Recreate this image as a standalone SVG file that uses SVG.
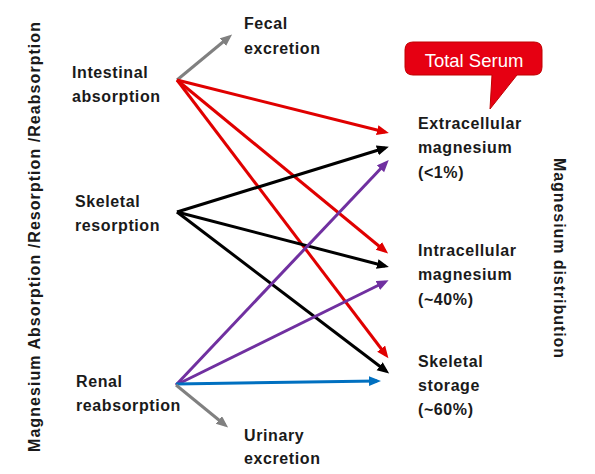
<svg xmlns="http://www.w3.org/2000/svg" width="595" height="474" viewBox="0 0 595 474">
<defs>
<style>
.t{font-family:"Liberation Sans",Arial,sans-serif;font-weight:bold;font-size:16px;fill:#1a1a1a;letter-spacing:0.6px}
.ax{font-family:"Liberation Sans",Arial,sans-serif;font-weight:bold;font-size:16px;fill:#1a1a1a}
.c{fill:none;stroke-width:3}
</style>
<marker id="aR" markerUnits="userSpaceOnUse" markerWidth="14" markerHeight="12" refX="8" refY="5" orient="auto"><path d="M0,0 L12,5 L0,10 z" fill="#e00000"/></marker>
<marker id="aK" markerUnits="userSpaceOnUse" markerWidth="14" markerHeight="12" refX="8" refY="5" orient="auto"><path d="M0,0 L12,5 L0,10 z" fill="#000"/></marker>
<marker id="aP" markerUnits="userSpaceOnUse" markerWidth="14" markerHeight="12" refX="8" refY="5" orient="auto"><path d="M0,0 L12,5 L0,10 z" fill="#7030a0"/></marker>
<marker id="aB" markerUnits="userSpaceOnUse" markerWidth="14" markerHeight="12" refX="8" refY="5" orient="auto"><path d="M0,0 L12,5 L0,10 z" fill="#0070c0"/></marker>
<marker id="aG" markerUnits="userSpaceOnUse" markerWidth="14" markerHeight="12" refX="8" refY="5" orient="auto"><path d="M0,0 L12,5 L0,10 z" fill="#808080"/></marker>
</defs>
<rect width="595" height="474" fill="#fff"/>
<g id="connectors">
<line class="c" stroke="#808080" x1="177" y1="80" x2="229" y2="37" marker-end="url(#aG)"/>
<line class="c" stroke="#e00000" x1="177" y1="80" x2="385" y2="132" marker-end="url(#aR)"/>
<line class="c" stroke="#e00000" x1="177" y1="80" x2="385" y2="251" marker-end="url(#aR)"/>
<line class="c" stroke="#e00000" x1="177" y1="80" x2="386" y2="355" marker-end="url(#aR)"/>
<line class="c" stroke="#000" x1="177" y1="212" x2="385" y2="148" marker-end="url(#aK)"/>
<line class="c" stroke="#000" x1="177" y1="212" x2="385" y2="266" marker-end="url(#aK)"/>
<line class="c" stroke="#000" x1="177" y1="212" x2="386" y2="371" marker-end="url(#aK)"/>
<line class="c" stroke="#7030a0" x1="176" y1="385" x2="386" y2="163" marker-end="url(#aP)"/>
<line class="c" stroke="#7030a0" x1="176" y1="385" x2="385" y2="282" marker-end="url(#aP)"/>
<line class="c" stroke="#0070c0" x1="176" y1="384" x2="377" y2="381" marker-end="url(#aB)"/>
<line class="c" stroke="#808080" x1="176" y1="385" x2="225" y2="425" marker-end="url(#aG)"/>
</g>
<g id="fecal"><text class="t" x="244" y="29">Fecal</text><text class="t" x="244" y="54">excretion</text></g>
<g id="intestinal"><text class="t" x="72" y="78">Intestinal</text><text class="t" x="72" y="102">absorption</text></g>
<g id="skeletal-resorption"><text class="t" x="75" y="207">Skeletal</text><text class="t" x="75" y="231">resorption</text></g>
<g id="renal"><text class="t" x="76" y="387">Renal</text><text class="t" x="76" y="411">reabsorption</text></g>
<g id="urinary"><text class="t" x="244" y="441">Urinary</text><text class="t" x="244" y="464">excretion</text></g>
<g id="extracellular"><text class="t" x="418" y="129">Extracellular</text><text class="t" x="418" y="153">magnesium</text><text class="t" x="418" y="178">(&lt;1%)</text></g>
<g id="intracellular"><text class="t" x="418" y="256">Intracellular</text><text class="t" x="418" y="280">magnesium</text><text class="t" x="418" y="305">(~40%)</text></g>
<g id="skeletal-storage"><text class="t" x="418" y="367">Skeletal</text><text class="t" x="418" y="391">storage</text><text class="t" x="418" y="415">(~60%)</text></g>
<g id="total-serum">
<path d="M413,42 H534 Q542,42 542,50 V67 Q542,75 534,75 H517 L490,109 L492,75 H413 Q405,75 405,67 V50 Q405,42 413,42 Z" fill="#e60012" stroke="#c00000" stroke-width="1"/>
<text x="474" y="67" text-anchor="middle" font-family="'Liberation Sans',Arial,sans-serif" font-size="18.5" fill="#fff">Total Serum</text>
</g>
<g id="left-axis"><text class="ax" transform="translate(40,237) rotate(-90)" text-anchor="middle" textLength="430" lengthAdjust="spacing">Magnesium Absorption /Resorption /Reabsorption</text></g>
<g id="right-axis"><text class="ax" transform="translate(554,258) rotate(90)" text-anchor="middle" textLength="200" lengthAdjust="spacing">Magnesium distribution</text></g>
</svg>
